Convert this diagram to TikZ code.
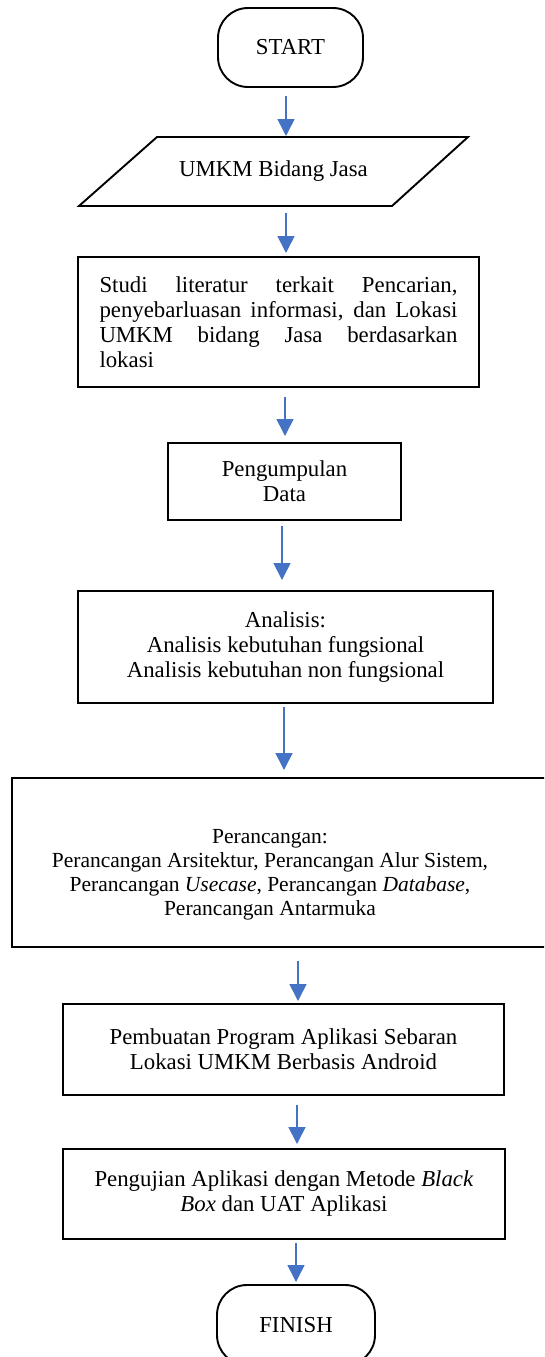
\documentclass[tikz,border=0pt]{standalone}
\usepackage{fontspec}
\setmainfont{Liberation Serif}
\usetikzlibrary{arrows.meta,calc}
\definecolor{arrowblue}{HTML}{4472C4}
\begin{document}
\begin{tikzpicture}[x=1pt,y=-1pt,
  every node/.style={font=\fontsize{22.8}{25}\selectfont, inner sep=0pt, outer sep=0pt},
  procbox/.style={draw=black, line width=1.9pt, rectangle, align=center},
  termbox/.style={draw=black, line width=1.9pt, rectangle, rounded corners=30pt, align=center},
  arr/.style={draw=arrowblue, line width=1.6pt, -{Triangle[width=17pt,length=17pt]}, fill=arrowblue},
]
\useasboundingbox (0,0) rectangle (544,1357);
\clip (0,0) rectangle (544,1357);
\fill[white] (0,0) rectangle (544,1357);

\node[termbox, minimum width=145pt, minimum height=79pt] (start) at (290.5,47.5) {START};

\node[minimum width=389pt, minimum height=69pt] (para) at (273.5,171.5) {UMKM Bidang Jasa};
\draw[line width=1.9pt] ($(para.north west)+(78,0)$) -- (para.north east) -- ($(para.south east)+(-76,0)$) -- (para.south west) -- cycle;

\node[procbox, minimum width=401pt, minimum height=130pt] (studi) at (278.5,322)
  {\makebox[358pt][s]{Studi literatur terkait Pencarian,}\\
   \makebox[358pt][s]{penyebarluasan informasi, dan Lokasi}\\
   \makebox[358pt][s]{UMKM bidang Jasa berdasarkan}\\
   \makebox[358pt][l]{lokasi}};

\node[procbox, minimum width=233pt, minimum height=77pt] (kumpul) at (284.5,481.5) {Pengumpulan\\Data};

\node[procbox, minimum width=415pt, minimum height=112pt] (analisis) at (285.5,647)
  {Analisis:\\Analisis kebutuhan fungsional\\Analisis kebutuhan non fungsional};

\node[procbox, minimum width=544pt, minimum height=169pt] (rancang) at (284,862.5) {};
\node[font=\fontsize{21.5}{24}\selectfont, align=center] (rancangtext) at (270,875)
  {Perancangan:\\Perancangan Arsitektur, Perancangan Alur Sistem,\\Perancangan \textit{Usecase}, Perancangan \textit{Database},\\Perancangan Antarmuka};

\node[procbox, minimum width=441pt, minimum height=91pt] (buat) at (283.5,1049.5)
  {Pembuatan Program Aplikasi Sebaran\\Lokasi UMKM Berbasis Android};

\node[procbox, minimum width=442pt, minimum height=90pt] (uji) at (284,1194)
  {Pengujian Aplikasi dengan Metode \textit{Black}\\\textit{Box} dan UAT Aplikasi};

\node[termbox, minimum width=158pt, minimum height=80pt] (finish) at (296,1325) {FINISH};

\coordinate (x1) at (286,0);
\coordinate (x2) at (286,0);
\coordinate (x3) at (285,0);
\coordinate (x4) at (282,0);
\coordinate (x5) at (284,0);
\coordinate (x6) at (298,0);
\coordinate (x7) at (297,0);
\coordinate (x8) at (296,0);

\draw[arr, shorten <=9pt, shorten >=1pt] (x1 |- start.south) -- (x1 |- para.north);
\draw[arr, shorten <=7pt, shorten >=4pt] (x2 |- para.south) -- (x2 |- studi.north);
\draw[arr, shorten <=10pt, shorten >=7pt] (x3 |- studi.south) -- (x3 |- kumpul.north);
\draw[arr, shorten <=6pt, shorten >=11pt] (x4 |- kumpul.south) -- (x4 |- analisis.north);
\draw[arr, shorten <=4pt, shorten >=8pt] (x5 |- analisis.south) -- (x5 |- rancang.north);
\draw[arr, shorten <=14pt, shorten >=3pt] (x6 |- rancang.south) -- (x6 |- buat.north);
\draw[arr, shorten <=10pt, shorten >=5pt] (x7 |- buat.south) -- (x7 |- uji.north);
\draw[arr, shorten <=4pt, shorten >=3pt] (x8 |- uji.south) -- (x8 |- finish.north);
\end{tikzpicture}
\end{document}
